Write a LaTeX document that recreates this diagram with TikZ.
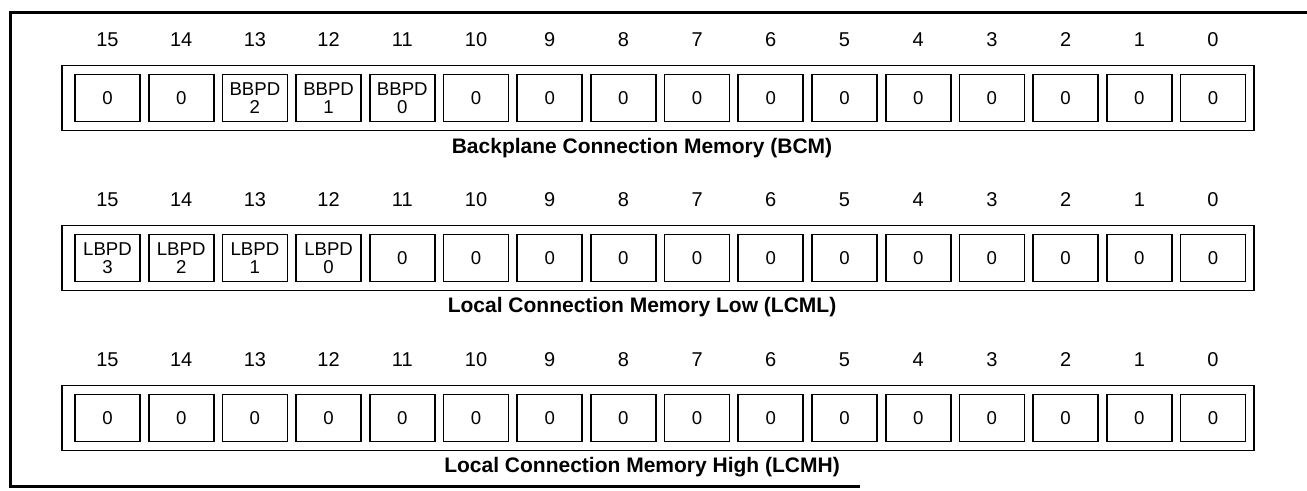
\documentclass[tikz,border=0pt]{standalone}
\usepackage{fontspec}
\setmainfont{Liberation Sans}
\begin{document}
\begin{tikzpicture}[x=0.5pt,y=-0.5pt,
  cell/.style={draw,line width=0.85pt,minimum width=32.5pt,minimum height=23.5pt,inner sep=0pt,align=center,font=\fontsize{9.3}{8.8}\selectfont},
  reg/.style={draw,line width=0.9pt,minimum width=596pt,minimum height=32.5pt,inner sep=0pt},
  bitnum/.style={font=\fontsize{10}{10}\selectfont,inner sep=0pt},
  regtitle/.style={font=\bfseries\fontsize{10.5}{12}\selectfont,inner sep=0pt},
  frameline/.style={line width=1.5pt}]
\useasboundingbox (0,0) rectangle (1307,491);
\draw[frameline] (1307,13) -- (10,13) -- (10,487) -- (860,487);
% Row 0: BCM
\node[reg] (r0) at (658,98) {};
\foreach \b/\txt in {15/0,14/0,13/{BBPD\\2},12/{BBPD\\1},11/{BBPD\\0},10/0,9/0,8/0,7/0,6/0,5/0,4/0,3/0,2/0,1/0,0/0}{
  \node[cell] (c0-\b) at ({107.5+(15-\b)*73.7},98) {\txt};
  \node[bitnum] (n0-\b) at ({107.5+(15-\b)*73.7},40) {\b};
}
\node[regtitle] (t0) at (642,148) {Backplane Connection Memory (BCM)};
% Row 1: LCML
\node[reg] (r1) at (658,258) {};
\foreach \b/\txt in {15/{LBPD\\3},14/{LBPD\\2},13/{LBPD\\1},12/{LBPD\\0},11/0,10/0,9/0,8/0,7/0,6/0,5/0,4/0,3/0,2/0,1/0,0/0}{
  \node[cell] (c1-\b) at ({107.5+(15-\b)*73.7},258) {\txt};
  \node[bitnum] (n1-\b) at ({107.5+(15-\b)*73.7},200) {\b};
}
\node[regtitle] (t1) at (642,307) {Local Connection Memory Low (LCML)};
% Row 2: LCMH
\node[reg] (r2) at (658,418) {};
\foreach \b in {15,14,...,0}{
  \node[cell] (c2-\b) at ({107.5+(15-\b)*73.7},418) {0};
  \node[bitnum] (n2-\b) at ({107.5+(15-\b)*73.7},360) {\b};
}
\node[regtitle] (t2) at (642,467) {Local Connection Memory High (LCMH)};
\end{tikzpicture}
\end{document}
